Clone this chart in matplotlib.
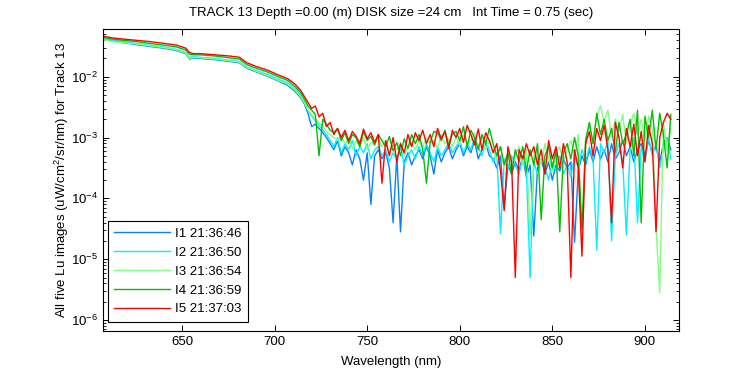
import matplotlib
matplotlib.use("Agg")
import matplotlib.pyplot as plt
import numpy as np

# log10 of Lu for each image
wl_smooth = [607, 612, 618, 625, 632, 640, 647, 652, 654, 656, 660, 668, 676,
             681, 685, 690, 696, 702, 707, 711, 714, 716]
wl_noise = list(range(718, 915, 2))
wl = wl_smooth + wl_noise

i1_log = [-1.38, -1.41, -1.44, -1.47, -1.50, -1.53, -1.57, -1.62, -1.71, -1.69, -1.70,
          -1.72, -1.75, -1.77, -1.86, -1.92, -1.99, -2.07, -2.14, -2.24, -2.34, -2.44,
          -2.60, -2.82, -2.78, -2.85, -2.92, -3.00, -3.10, -3.20, -3.05, -3.30,
          -3.15, -3.25, -3.45, -3.20, -3.35, -3.70, -3.25, -4.10, -3.30, -3.20,
          -3.35, -3.25, -3.50, -4.40, -3.30, -4.55, -3.40, -3.25, -3.45, -3.30,
          -3.20, -3.35, -3.15, -3.30, -3.60, -3.20, -3.40, -3.25, -3.15, -3.35,
          -3.20, -3.10, -3.30, -3.15, -3.25, -3.05, -3.35, -3.20, -3.10, -3.30,
          -3.35, -3.50, -3.30, -4.15, -3.45, -3.60, -3.40, -3.55, -3.30, -3.65,
          -3.45, -4.62, -3.50, -3.35, -3.60, -3.40, -3.70, -3.45, -3.55, -3.35,
          -3.50, -3.40, -4.72, -3.55, -3.30, -3.45, -3.20, -3.40, -3.15, -3.35,
          -3.20, -3.40, -3.10, -3.35, -3.25, -3.05, -3.30, -3.15, -3.40, -3.20,
          -3.10, -3.30, -3.05, -3.25, -3.15, -3.40, -3.10, -3.00, -3.20]

i2_log = [-1.37, -1.40, -1.42, -1.45, -1.48, -1.51, -1.55, -1.60, -1.68, -1.67, -1.68,
          -1.70, -1.73, -1.75, -1.84, -1.90, -1.96, -2.04, -2.10, -2.20, -2.30, -2.40,
          -2.55, -2.65, -2.72, -2.80, -2.88, -2.95, -3.05, -3.15, -3.00, -3.25,
          -3.10, -3.20, -3.05, -3.30, -3.15, -3.25, -3.10, -3.35, -3.20, -3.15,
          -3.30, -3.20, -3.40, -3.25, -3.35, -3.15, -3.45, -3.30, -3.20, -3.35,
          -3.15, -3.30, -3.10, -3.25, -3.40, -3.15, -3.30, -3.20, -3.10, -3.25,
          -3.15, -3.05, -3.25, -3.10, -3.20, -3.00, -3.15, -3.30, -3.05, -3.20,
          -3.40, -3.25, -4.58, -3.35, -3.50, -3.30, -3.45, -3.60, -3.35, -3.55,
          -5.30, -3.40, -3.60, -3.35, -3.50, -3.70, -3.40, -3.55, -3.30, -3.60,
          -3.45, -3.65, -3.30, -3.50, -3.20, -3.40, -3.15, -3.35, -4.85, -3.10,
          -3.25, -3.05, -4.70, -3.30, -3.10, -3.40, -4.60, -3.20, -3.00, -4.40,
          -3.15, -3.40, -3.00, -3.30, -3.10, -3.50, -3.20, -3.00, -3.35]

i3_log = [-1.39, -1.42, -1.44, -1.46, -1.49, -1.52, -1.56, -1.61, -1.70, -1.68, -1.69,
          -1.71, -1.74, -1.76, -1.85, -1.91, -1.98, -2.06, -2.12, -2.22, -2.32, -2.42,
          -2.55, -2.62, -2.70, -2.75, -2.82, -2.90, -2.95, -3.00, -3.05, -2.98,
          -3.10, -3.02, -3.18, -3.05, -3.15, -3.00, -3.20, -3.08, -3.12, -3.02,
          -3.15, -3.05, -3.25, -3.12, -3.20, -3.08, -3.30, -3.15, -3.10, -3.20,
          -3.05, -3.15, -3.00, -3.10, -3.05, -3.18, -2.95, -3.10, -3.02, -3.15,
          -3.00, -3.12, -2.95, -3.08, -3.05, -2.92, -3.15, -3.00, -3.20, -3.05,
          -3.20, -3.35, -3.15, -3.50, -3.25, -3.40, -3.30, -3.15, -3.45, -3.20,
          -4.60, -3.30, -3.20, -3.45, -3.10, -3.35, -3.55, -3.25, -3.15, -3.40,
          -3.20, -3.05, -3.30, -2.95, -4.85, -3.00, -2.80, -3.10, -2.65, -2.48,
          -2.75, -2.55, -3.00, -2.70, -2.90, -2.62, -3.10, -2.80, -2.60, -2.95,
          -2.70, -3.05, -2.65, -2.85, -4.45, -5.55, -2.75, -3.20, -2.85]

i4_log = [-1.35, -1.38, -1.40, -1.42, -1.45, -1.48, -1.51, -1.56, -1.63, -1.64, -1.64,
          -1.66, -1.69, -1.71, -1.80, -1.86, -1.92, -2.00, -2.06, -2.16, -2.26, -2.36,
          -2.48, -2.55, -2.62, -3.30, -2.70, -2.78, -2.88, -2.92, -2.85, -3.05,
          -2.92, -3.10, -2.95, -3.00, -3.15, -2.90, -3.05, -2.98, -3.12, -2.95,
          -3.05, -3.15, -2.98, -3.22, -3.08, -3.30, -3.02, -3.18, -2.95, -3.10,
          -2.95, -3.20, -3.75, -3.08, -2.90, -2.92, -3.05, -2.88, -3.12, -2.95,
          -2.90, -3.05, -2.82, -3.15, -2.88, -3.00, -3.20, -2.95, -3.10, -2.85,
          -3.10, -3.30, -3.15, -3.45, -3.25, -3.60, -3.20, -3.40, -3.15, -3.55,
          -3.20, -3.45, -3.10, -4.35, -3.30, -3.15, -3.50, -3.20, -4.55, -3.25,
          -3.10, -3.35, -3.00, -3.30, -4.50, -3.05, -2.75, -3.10, -2.60, -2.95,
          -2.70, -3.05, -2.85, -3.25, -2.75, -3.10, -2.95, -2.70, -3.30, -2.55,
          -4.40, -2.65, -3.00, -2.55, -3.20, -2.60, -2.95, -3.50, -2.62]

i5_log = [-1.33, -1.36, -1.38, -1.40, -1.42, -1.45, -1.48, -1.53, -1.60, -1.62, -1.62,
          -1.64, -1.66, -1.68, -1.77, -1.83, -1.89, -1.97, -2.03, -2.12, -2.22, -2.32,
          -2.42, -2.52, -2.48, -2.66, -2.60, -2.82, -2.75, -2.95, -2.85, -3.00,
          -2.88, -3.05, -2.90, -2.98, -3.10, -2.86, -3.02, -2.92, -3.08, -2.95,
          -3.75, -3.05, -3.30, -3.00, -3.40, -3.10, -3.25, -2.95, -3.15, -2.92,
          -3.05, -2.88, -3.10, -2.95, -3.15, -2.85, -3.02, -2.90, -3.18, -2.88,
          -3.00, -2.85, -3.08, -2.80, -2.95, -3.12, -2.86, -3.20, -2.92, -3.05,
          -3.25, -3.10, -3.55, -4.20, -3.15, -3.40, -5.30, -3.20, -3.35, -3.10,
          -3.30, -3.15, -3.45, -3.20, -3.60, -3.05, -3.35, -3.15, -3.50, -3.10,
          -3.40, -5.30, -3.20, -3.50, -4.95, -3.10, -2.90, -3.30, -2.85, -3.05,
          -2.80, -3.20, -4.40, -2.75, -3.00, -3.50, -2.85, -3.15, -2.78, -3.30,
          -2.90, -3.40, -2.80, -3.10, -4.55, -3.00, -2.75, -2.60, -2.70]

labels = ["I1 21:36:46", "I2 21:36:50", "I3 21:36:54", "I4 21:36:59", "I5 21:37:03"]
colors = ["#0a80ff", "#00f0ff", "#80ff80", "#00c000", "#ff0000"]

plt.rcParams["font.family"] = ["Liberation Sans", "DejaVu Sans"]
plt.rcParams["mathtext.fontset"] = "custom"
plt.rcParams["mathtext.rm"] = "Liberation Sans"

fig = plt.figure(figsize=(7.5, 3.75), dpi=100)
ax = fig.add_axes([0.1373, 0.1173, 0.768, 0.8054])

for vals, c, lab in zip([i1_log, i2_log, i3_log, i4_log, i5_log], colors, labels):
    ax.plot(wl, 10 ** np.array(vals), color=c, lw=1.0, label=lab)

ax.set_yscale("log")
ax.set_xlim(607.3, 918.4)
ax.set_ylim(6.6e-7, 6.1e-2)
ax.set_xticks([650, 700, 750, 800, 850, 900])
ax.tick_params(which="both", direction="in", top=True, right=True, labelsize=9.5)
ax.tick_params(which="major", length=4, width=0.7)
ax.tick_params(which="minor", length=2, width=0.6)
for s in ax.spines.values():
    s.set_linewidth(0.8)

ax.set_xlabel("Wavelength (nm)", fontsize=9.5, labelpad=6)
ax.set_ylabel("All five Lu images (uW/cm$^2$/sr/nm) for Track 13", fontsize=9.5,
              labelpad=0)
ax.set_title("TRACK 13 Depth =0.00 (m) DISK size =24 cm   Int Time = 0.75 (sec)",
             fontsize=9.5, pad=9)

leg = ax.legend(loc="lower left", bbox_to_anchor=(0.008, 0.03), fontsize=9.5,
                fancybox=False, framealpha=1, edgecolor="black",
                handlelength=4.2, labelspacing=0.5, borderpad=0.5,
                handletextpad=0.4, borderaxespad=0)
leg.get_frame().set_linewidth(0.8)

fig.savefig("out.png", dpi=100)
